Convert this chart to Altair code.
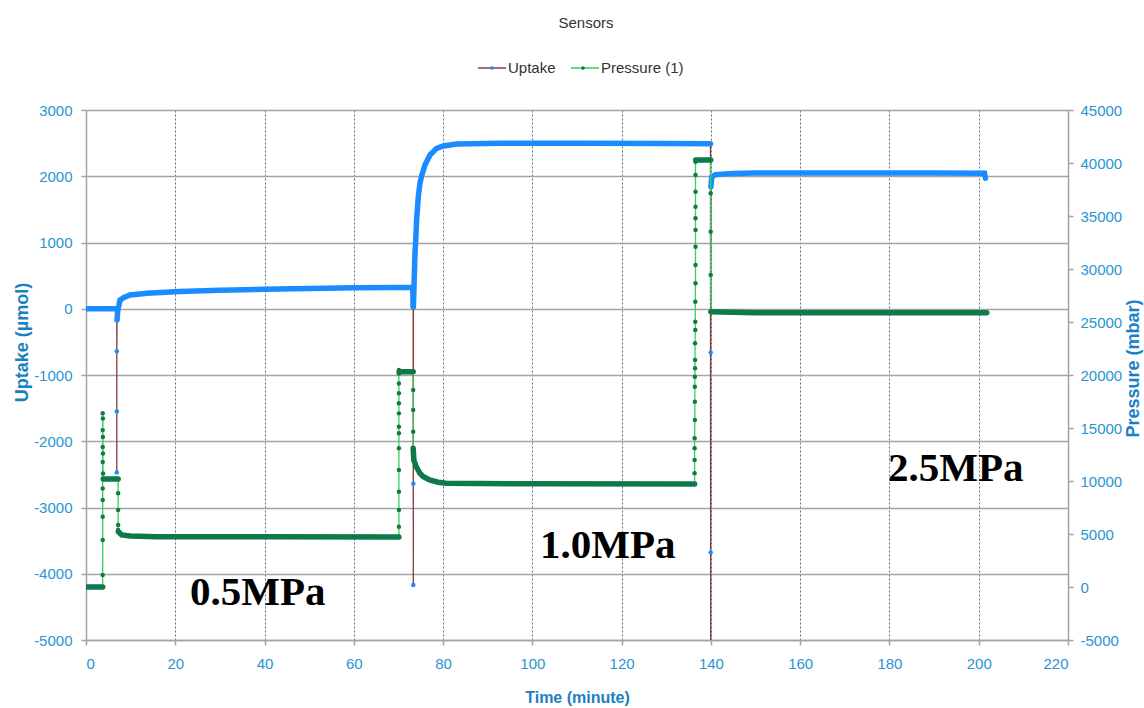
import altair as alt
import pandas as pd

# ---------------- data ----------------
SERIES = ["Uptake", "Pressure (1)"]

# Uptake (µmol) vs time (minute); seg = dense run id, -1 = sparse point inside a jump
uptake_time = [0, 3, 6.9,
               6.9, 6.9, 6.9,
               6.95, 7.1, 7.4, 7.6, 8.5, 9.9, 13.6, 21, 30, 40, 50, 60, 70, 73.2, 73.3,
               73.33, 73.33,
               73.35, 73.55, 73.7, 73.85, 74.07, 74.44, 74.82, 75.19, 75.94, 77.06, 78.56,
               80.05, 83.04, 92.7, 110, 130, 139.9,
               139.95, 139.95, 139.95,
               140.0, 140.2, 141, 145, 150, 170, 190, 201.3, 201.5]
uptake_value = [0, 0, 0,
                -2470, -1550, -640,
                -170, -30, 60, 130, 170, 207, 233, 260, 280, 295, 305, 318, 320, 320, 30,
                -4170, -2640,
                31, 484, 836, 1008, 1340, 1691, 1893, 2004, 2170, 2321, 2421,
                2457, 2487, 2497, 2500, 2495, 2490,
                -5600, -3680, -660,
                1840, 1990, 2025, 2040, 2050, 2050, 2050, 2045, 1970]
uptake_seg = [0, 0, 0,
              -1, -1, -1,
              1, 1, 1, 1, 1, 1, 1, 1, 1, 1, 1, 1, 1, 1, 1,
              -1, -1,
              2, 2, 2, 2, 2, 2, 2, 2, 2, 2, 2,
              2, 2, 2, 2, 2, 2,
              -1, -1, -1,
              3, 3, 3, 3, 3, 3, 3, 3, 3]

# Pressure (mbar) vs time (minute)
pressure_time = [0, 3.74,
                 3.74, 3.74, 3.74, 3.74, 3.74, 3.74, 3.74, 3.74, 3.74, 3.78, 3.78, 3.8, 3.82,
                 3.85, 7.2,
                 7.2, 7.2, 7.2, 7.2,
                 7.25, 8, 9.9, 15.8, 40, 70.1,
                 70.1, 70.1, 70.1, 70.1, 70.1, 70.1, 70.1, 70.1, 70.1, 70.1, 70.1, 70.1, 70.1,
                 70.15, 73.3,
                 73.3, 73.3, 73.3,
                 73.3, 73.45, 74, 74.8, 75.6, 77, 78.9, 80.7, 100, 136.35,
                 136.35, 136.35, 136.35, 136.35, 136.4, 136.4, 136.4, 136.4, 136.45, 136.45,
                 136.45, 136.5, 136.5, 136.5, 136.55, 136.55, 136.55, 136.55, 136.55, 136.55,
                 136.55, 136.55, 136.55,
                 136.6, 139.95,
                 139.95, 139.95, 139.95,
                 140.0, 150, 201.8]
pressure_value = [0, 0,
                  1130, 4430, 6630, 8200, 9300, 11800, 13200, 14800, 16400, 15900, 14150, 12600, 10700,
                  10190, 10190,
                  8840, 7260, 5850, 5380,
                  5220, 4910, 4810, 4750, 4730, 4720,
                  5690, 7260, 8990, 11040, 13080, 14500, 15120, 16380, 17330, 18270, 19200, 20150, 20470,
                  20310, 20310,
                  18580, 16700, 14650,
                  13080, 11960, 11350, 10730, 10410, 10100, 9880, 9780, 9740, 9720,
                  10730, 11980, 13080, 14030, 15750, 17480, 18900, 19840, 20630, 21410,
                  22990, 24250, 25030, 26920, 28650, 30380, 32100, 33680, 34780, 35880,
                  37290, 38870, 40120,
                  40280, 40280,
                  37140, 33520, 29430,
                  25970, 25880, 25880]
pressure_seg = [0, 0,
                -1, -1, -1, -1, -1, -1, -1, -1, -1, -1, -1, -1, -1,
                1, 1,
                -1, -1, -1, -1,
                2, 2, 2, 2, 2, 2,
                -1, -1, -1, -1, -1, -1, -1, -1, -1, -1, -1, -1, -1,
                3, 3,
                -1, -1, -1,
                4, 4, 4, 4, 4, 4, 4, 4, 4, 4,
                -1, -1, -1, -1, -1, -1, -1, -1, -1, -1,
                -1, -1, -1, -1, -1, -1, -1, -1, -1, -1,
                -1, -1, -1,
                5, 5,
                -1, -1, -1,
                6, 6, 6]

# annotations (placed in time / uptake coordinates)
note_text = ["0.5MPa", "1.0MPa", "2.5MPa"]
note_time = [23.3, 101.7, 179.7]
note_uptake = [-4472, -3762, -2600]

x_ticks = list(range(0, 221, 20))
left_ticks = list(range(-5000, 3001, 1000))
right_ticks = list(range(-5000, 45001, 5000))

# ---------------- styling ----------------
LINE_COLORS = ["#8b3a3a", "#3ad24f"]
DOT_COLORS = ["#1a8cff", "#0e7a4c"]
SANS = "Liberation Sans"
LABEL_BLUE = "#2a95d3"
TITLE_BLUE = "#1a80c4"
GRAY = "#a3a3a3"
PLAIN_NUM = "'' + datum.value"


def frame(ts, vs, segs, name):
    return pd.DataFrame({"t": ts, "v": vs, "seg": segs, "i": list(range(len(ts))),
                         "series": name, "series_f": name})


up_df = frame(uptake_time, uptake_value, uptake_seg, SERIES[0])
pr_df = frame(pressure_time, pressure_value, pressure_seg, SERIES[1])
note_df = pd.DataFrame({"label": note_text, "t": note_time, "v": note_uptake})

x_enc = alt.X("t:Q", scale=alt.Scale(domain=[0, 220], nice=False, zero=False),
              axis=alt.Axis(values=x_ticks, title="Time (minute)", grid=True,
                            gridDash=[2, 2], gridColor="#4d7499", gridWidth=1,
                            domainColor=GRAY, domainWidth=1.5, tickColor=GRAY,
                            tickWidth=1.5, tickSize=5, labelColor=LABEL_BLUE,
                            labelFont=SANS, labelFontSize=15, labelPadding=11,
                            labelExpr=PLAIN_NUM,
                            titleFont=SANS, titleFontSize=16, titleFontWeight="bold",
                            titleColor=TITLE_BLUE, titleX=491, titleY=57,
                            titleBaseline="middle", titleAlign="center"))

y_left = alt.Y("v:Q", scale=alt.Scale(domain=[-5000, 3000], nice=False, zero=False),
               axis=alt.Axis(orient="left", values=left_ticks, labelExpr=PLAIN_NUM,
                             title="Uptake (µmol)", grid=True, gridColor=GRAY,
                             gridWidth=1.5, domainColor=GRAY, domainWidth=1.5,
                             tickColor=GRAY, tickWidth=1.5, tickSize=5,
                             labelColor=LABEL_BLUE, labelFont=SANS, labelFontSize=15,
                             labelPadding=9, titleFont=SANS,
                             titleFontSize=18, titleFontWeight="bold",
                             titleColor=TITLE_BLUE, titleAngle=270, titleX=-64,
                             titleY=232, titleAlign="center", titleBaseline="middle"))

y_right = alt.Y("v:Q", scale=alt.Scale(domain=[-5000, 45000], nice=False, zero=False),
                axis=alt.Axis(orient="right", values=right_ticks, labelExpr=PLAIN_NUM,
                              title="Pressure (mbar)", grid=False, domainColor=GRAY,
                              domainWidth=1.5, tickColor=GRAY, tickWidth=1.5, tickSize=5,
                              labelColor=LABEL_BLUE, labelFont=SANS, labelFontSize=15,
                              labelPadding=7, titleFont=SANS,
                              titleFontSize=18, titleFontWeight="bold",
                              titleColor=TITLE_BLUE, titleAngle=270, titleX=65,
                              titleY=258, titleAlign="center", titleBaseline="middle"))

LEG_X, LEG_Y = 391, -57
common_leg = dict(orient="none", legendX=LEG_X, legendY=LEG_Y, direction="horizontal",
                  title=None, symbolSize=784, symbolStrokeWidth=1.5,
                  labelFont=SANS, labelFontSize=15, labelColor="#333333",
                  labelOffset=1, columnPadding=12, labelBaseline="middle")

# line colours: explicit domain; dot colours: data domain sorted in SERIES order
# (different domains keep the two legends separate, so they can be overlaid)
stroke_enc = alt.Stroke("series:N",
                        scale=alt.Scale(domain=SERIES, range=LINE_COLORS),
                        legend=alt.Legend(symbolType="M-1,0H1", **common_leg))
fill_enc = alt.Fill("series_f:N", sort=SERIES,
                    scale=alt.Scale(range=DOT_COLORS),
                    legend=alt.Legend(
                        symbolType="M-0.13,0A0.13,0.13,0,1,1,0.13,0A0.13,0.13,0,1,1,-0.13,0Z",
                        symbolStrokeColor="transparent", labelOpacity=0, **common_leg))


def series_layers(df, y_enc, dense_color):
    base = alt.Chart(df)
    thin = base.mark_line(strokeWidth=1.3, clip=True).encode(
        x=x_enc, y=y_enc, stroke=stroke_enc, order=alt.Order("i:Q"))
    thick = base.transform_filter("datum.seg >= 0").mark_line(
        strokeWidth=5.5, color=dense_color, clip=True, strokeCap="round").encode(
        x=x_enc, y=y_enc, detail="seg:N", order=alt.Order("i:Q"))
    dots = base.mark_circle(size=20, opacity=1, clip=True).encode(
        x=x_enc, y=y_enc, fill=fill_enc)
    return [thin, thick, dots]


notes = alt.Chart(note_df).mark_text(
    font="Liberation Serif", fontWeight="bold", fontSize=41, align="left",
    baseline="alphabetic", color="black").encode(x=x_enc, y=y_left, text="label:N")

uptake_layer = alt.layer(*series_layers(up_df, y_left, DOT_COLORS[0]), notes)
pressure_layer = alt.layer(*series_layers(pr_df, y_right, DOT_COLORS[1]))

chart = alt.layer(uptake_layer, pressure_layer).resolve_scale(
    y="independent"
).properties(
    width=982, height=530,
    autosize=alt.AutoSizeParams(type="none"),
    padding={"left": 86, "top": 110, "right": 76, "bottom": 68},
    title=alt.TitleParams("Sensors", font=SANS, fontSize=15, fontWeight="normal",
                          color="#333333", anchor="middle", offset=22, dx=9),
    background="white",
).configure_view(stroke=None)

chart.save("out.html", embed_options={"renderer": "svg", "actions": False})
